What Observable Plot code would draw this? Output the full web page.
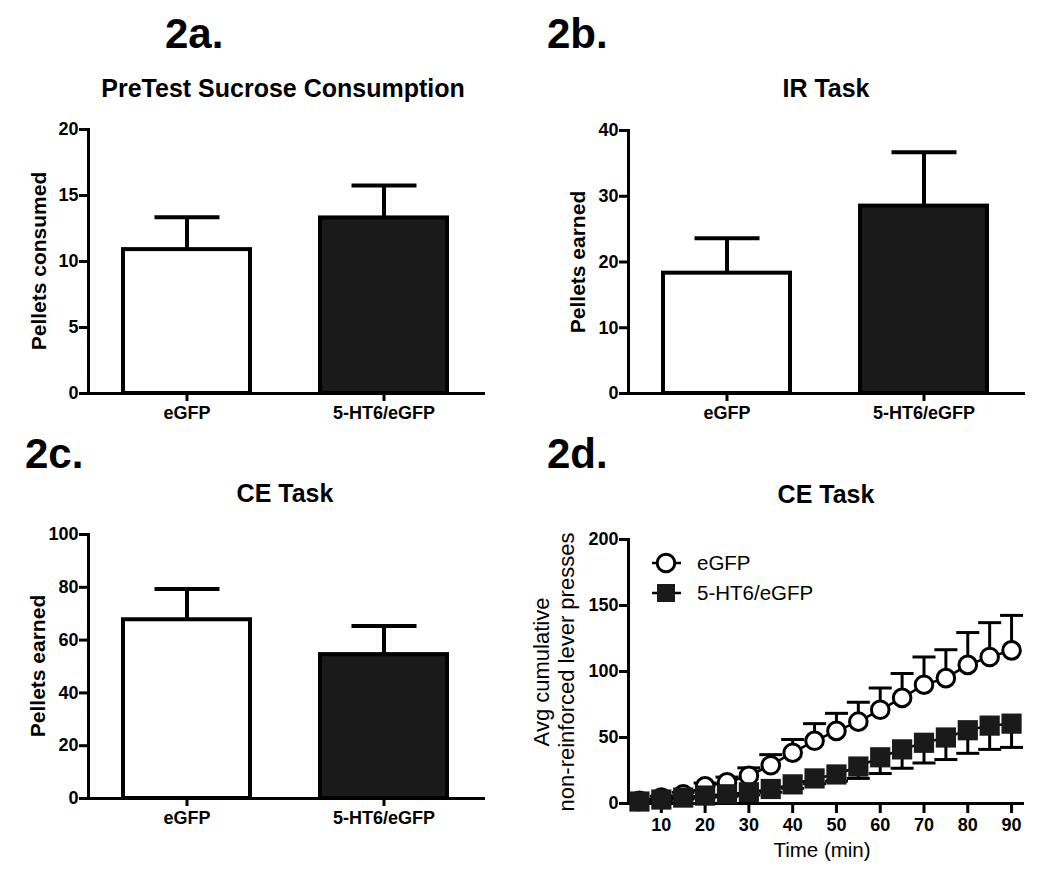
<!DOCTYPE html>
<html>
<head>
<meta charset="utf-8">
<script src="https://cdn.jsdelivr.net/npm/d3@7"></script>
<script src="https://cdn.jsdelivr.net/npm/@observablehq/plot@0.6"></script>
<style>
  html, body { margin: 0; padding: 0; background: #fff; }
  #fig { position: relative; width: 1050px; height: 878px; overflow: hidden; font-family: "Liberation Sans", Arial, sans-serif; }
  #overlay { pointer-events: none; }
  svg.chart text { font-family: "Liberation Sans", Arial, sans-serif !important; font-size: 18px !important; font-weight: bold !important; }
</style>
</head>
<body>
<div id="fig"></div>
<script>
// ---------- data ----------
const barGroups = ["eGFP", "5-HT6/eGFP"];

const sucroseMean = [10.9, 13.3];
const sucroseSem = [2.45, 2.45];
const sucroseTicks = [0, 5, 10, 15, 20];

const irMean = [18.3, 28.5];
const irSem = [5.3, 8.2];
const irTicks = [0, 10, 20, 30, 40];

const ceMean = [67.7, 54.5];
const ceSem = [11.7, 10.8];
const ceTicks = [0, 20, 40, 60, 80, 100];

const timeMin = [5, 10, 15, 20, 25, 30, 35, 40, 45, 50, 55, 60, 65, 70, 75, 80, 85, 90];
const egfpMean = [2, 4.5, 7, 13, 16, 21, 29, 38.5, 47.5, 55, 62, 71, 80, 90, 95, 105, 111, 116];
const egfpSem = [0.5, 1, 1.5, 2.5, 4, 6, 8, 10, 13, 13.3, 14.7, 16.5, 18.5, 21, 21.5, 24.5, 26, 26.5];
const ht6Mean = [1.5, 3, 4.5, 6, 7, 8.5, 11, 14.5, 19, 22, 28, 35, 41, 46, 50, 55.5, 59, 60.5];
const ht6Sem = [0.5, 0.8, 1, 1.2, 1.5, 2, 2.5, 3, 4, 5, 9, 12.3, 14.3, 15.3, 16.7, 17.5, 18, 18];
const timeTicks = [10, 20, 30, 40, 50, 60, 70, 80, 90];
const pressTicks = [0, 50, 100, 150, 200];

// ---------- helpers ----------
const FONT = "'Liberation Sans', Arial, Helvetica, sans-serif";
const capSymbol = {
  draw(context, size) {
    const r = Math.sqrt(size / Math.PI);
    context.moveTo(-r, 0);
    context.lineTo(r, 0);
  }
};
const baseStyle = {
  fontFamily: FONT, fontSize: "18px", fontWeight: "bold",
  color: "black", background: "transparent", overflow: "visible"
};
const fig = document.getElementById("fig");

function place(svg, left, top) {
  svg.classList.add("chart");
  svg.style.position = "absolute";
  svg.style.left = left + "px";
  svg.style.top = top + "px";
  fig.appendChild(svg);
}

function barPanel(means, sems, yMax, yTicks, m) {
  const data = barGroups.map((g, i) => ({group: g, mean: means[i], sem: sems[i]}));
  return Plot.plot({
    width: m.width, height: m.height,
    marginLeft: m.left, marginRight: m.right, marginTop: m.top, marginBottom: m.bottom,
    style: baseStyle,
    x: {domain: barGroups, paddingInner: 0.355, paddingOuter: 0.18},
    y: {domain: [0, yMax]},
    color: {domain: barGroups, range: ["white", "#1a1a1a"]},
    marks: [
      Plot.barY(data, {x: "group", y: "mean", fill: "group", stroke: "black", strokeWidth: 4}),
      Plot.ruleX(data, {x: "group", y1: "mean", y2: d => d.mean + d.sem, stroke: "black", strokeWidth: 4}),
      Plot.dot(data, {x: "group", y: d => d.mean + d.sem, symbol: capSymbol, r: 32.5, fill: "none", stroke: "black", strokeWidth: 4}),
      Plot.frame({anchor: "left", stroke: "black", strokeWidth: 3}),
      Plot.frame({anchor: "bottom", stroke: "black", strokeWidth: 3}),
      Plot.axisY({ticks: yTicks, tickSize: 9, tickPadding: 1, strokeWidth: 3, label: null}),
      Plot.axisX({tickSize: 8, tickPadding: 5, strokeWidth: 3, label: null})
    ]
  });
}

// ---------- panels a, b, c ----------
place(barPanel(sucroseMean, sucroseSem, 20, sucroseTicks,
  {width: 510, height: 330, left: 88, right: 27, top: 19, bottom: 47}), 0, 110);
place(barPanel(irMean, irSem, 40, irTicks,
  {width: 525, height: 330, left: 103, right: 27, top: 20, bottom: 47}), 525, 110);
place(barPanel(ceMean, ceSem, 100, ceTicks,
  {width: 510, height: 330, left: 88, right: 27, top: 19, bottom: 47}), 0, 515);

// ---------- panel d ----------
const egfp = timeMin.map((t, i) => ({t, mean: egfpMean[i], sem: egfpSem[i]}));
const ht6 = timeMin.map((t, i) => ({t, mean: ht6Mean[i], sem: ht6Sem[i]}));
const plotD = Plot.plot({
  width: 525, height: 358,
  marginLeft: 103, marginRight: 28, marginTop: 19, marginBottom: 75,
  style: baseStyle,
  x: {domain: [2.5, 92.5]},
  y: {domain: [0, 200]},
  marks: [
    Plot.frame({anchor: "left", stroke: "black", strokeWidth: 3}),
    Plot.frame({anchor: "bottom", stroke: "black", strokeWidth: 3}),
    Plot.axisY({ticks: pressTicks, tickSize: 9, tickPadding: 1, strokeWidth: 3, label: null}),
    Plot.axisX({ticks: timeTicks, tickSize: 10, tickPadding: 5, strokeWidth: 3, label: null}),
    // eGFP
    Plot.line(egfp, {x: "t", y: "mean", stroke: "black", strokeWidth: 2.5}),
    Plot.ruleX(egfp, {x: "t", y1: "mean", y2: d => d.mean + d.sem, stroke: "black", strokeWidth: 3}),
    Plot.dot(egfp, {x: "t", y: d => d.mean + d.sem, symbol: capSymbol, r: 11.5, fill: "none", stroke: "black", strokeWidth: 3}),
    Plot.dot(egfp, {x: "t", y: "mean", r: 8.8, fill: "white", stroke: "black", strokeWidth: 3}),
    // 5-HT6/eGFP
    Plot.line(ht6, {x: "t", y: "mean", stroke: "black", strokeWidth: 2.5}),
    Plot.ruleX(ht6, {x: "t", y1: d => d.mean - d.sem, y2: "mean", stroke: "black", strokeWidth: 3}),
    Plot.dot(ht6, {x: "t", y: d => d.mean - d.sem, symbol: capSymbol, r: 11.5, fill: "none", stroke: "black", strokeWidth: 3}),
    Plot.dot(ht6, {x: "t", y: "mean", symbol: "square", r: 11.4, fill: "#1a1a1a", stroke: "none"})
  ]
});
place(plotD, 525, 520);

// ---------- text overlay & legend ----------
const ov = d3.select(fig).append("svg")
  .attr("id", "overlay").attr("width", 1050).attr("height", 878)
  .style("position", "absolute").style("left", "0px").style("top", "0px")
  .style("font-family", FONT);

const panelLabels = [
  {text: "2a.", x: 165, y: 48}, {text: "2b.", x: 547, y: 48},
  {text: "2c.", x: 25, y: 468}, {text: "2d.", x: 547, y: 468}
];
ov.selectAll("text.pl").data(panelLabels).join("text").attr("class", "pl")
  .attr("x", d => d.x).attr("y", d => d.y)
  .attr("font-size", 42).attr("font-weight", "bold").text(d => d.text);

const titles = [
  {text: "PreTest Sucrose Consumption", x: 283, y: 97},
  {text: "IR Task", x: 826, y: 97},
  {text: "CE Task", x: 285, y: 502},
  {text: "CE Task", x: 826, y: 503}
];
ov.selectAll("text.tt").data(titles).join("text").attr("class", "tt")
  .attr("x", d => d.x).attr("y", d => d.y).attr("text-anchor", "middle")
  .attr("font-size", 25).attr("font-weight", "bold").text(d => d.text);

const yLabels = [
  {text: "Pellets consumed", x: 46, y: 261, size: 21, weight: "bold"},
  {text: "Pellets earned", x: 585, y: 262, size: 21, weight: "bold"},
  {text: "Pellets earned", x: 45, y: 666, size: 21, weight: "bold"},
  {text: "Avg cumulative", x: 549, y: 672, size: 22, weight: "normal"},
  {text: "non-reinforced lever presses", x: 574, y: 672, size: 22, weight: "normal"}
];
ov.selectAll("text.yl").data(yLabels).join("text").attr("class", "yl")
  .attr("transform", d => `translate(${d.x},${d.y}) rotate(-90)`)
  .attr("text-anchor", "middle").attr("font-size", d => d.size)
  .attr("font-weight", d => d.weight).text(d => d.text);

ov.append("text").attr("x", 822).attr("y", 857).attr("text-anchor", "middle")
  .attr("font-size", 20.5).text("Time (min)");

// legend
const legend = [
  {name: "eGFP", y: 563, shape: "circle"},
  {name: "5-HT6/eGFP", y: 593, shape: "square"}
];
const lg = ov.selectAll("g.lg").data(legend).join("g").attr("class", "lg")
  .attr("transform", d => `translate(666,${d.y})`);
lg.append("line").attr("x1", -14).attr("x2", 15).attr("stroke", "black").attr("stroke-width", 2.5);
lg.filter(d => d.shape === "circle").append("circle").attr("r", 8.8)
  .attr("fill", "white").attr("stroke", "black").attr("stroke-width", 3);
lg.filter(d => d.shape === "square").append("rect").attr("x", -9).attr("y", -9)
  .attr("width", 18).attr("height", 18).attr("fill", "#1a1a1a");
lg.append("text").attr("x", 31).attr("y", 7).attr("font-size", 20.5).text(d => d.name);
</script>
</body>
</html>
